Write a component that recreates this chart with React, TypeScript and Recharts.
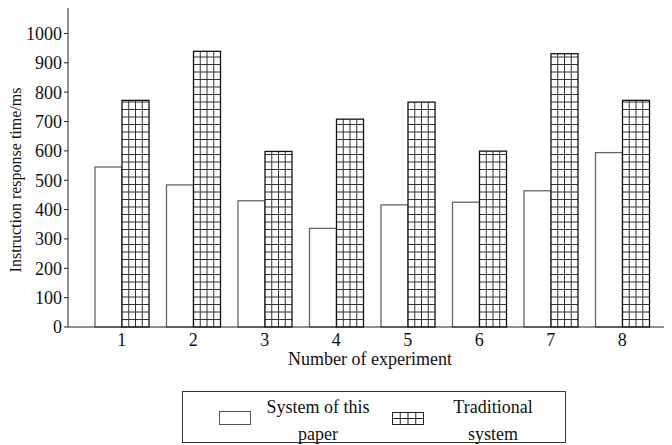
import { BarChart, Bar, XAxis, YAxis, Legend, Label } from "recharts";

const experiments = ["1", "2", "3", "4", "5", "6", "7", "8"];
const thisPaper = [545, 484, 430, 336, 416, 425, 464, 594];
const traditional = [772, 939, 598, 708, 766, 599, 931, 772];
const yTicks = [0, 100, 200, 300, 400, 500, 600, 700, 800, 900, 1000];

const data = experiments.map((name, i) => ({
  name,
  thisPaper: thisPaper[i],
  traditional: traditional[i],
}));

const FONT = "Liberation Serif, Times New Roman, DejaVu Serif, serif";

function PlainBar(props: any) {
  const { x, y, width, height } = props;
  if (!height || height <= 0) return null;
  return <rect x={x} y={y} width={width} height={height} fill="#fff" stroke="#666" strokeWidth={1.3} />;
}

function GridBar(props: any) {
  const { x, y, width, height } = props;
  if (!height || height <= 0) return null;
  const rowH = 7.5;
  const lines = [];
  for (let i = 1; i < 4; i++) {
    const lx = x + (i * width) / 4;
    lines.push(<line key={`v${i}`} x1={lx} x2={lx} y1={y} y2={y + height} stroke="#333" strokeWidth={1} />);
  }
  let k = 0;
  for (let ly = y + height - rowH; ly > y + 1; ly -= rowH) {
    lines.push(<line key={`h${k++}`} x1={x} x2={x + width} y1={ly} y2={ly} stroke="#333" strokeWidth={1} />);
  }
  return (
    <g>
      <rect x={x} y={y} width={width} height={height} fill="#fff" stroke="none" />
      {lines}
      <rect x={x} y={y} width={width} height={height} fill="none" stroke="#111" strokeWidth={1.3} />
    </g>
  );
}

function LegendBox() {
  return (
    <div
      style={{
        position: "relative",
        width: 384,
        height: 52,
        boxSizing: "border-box",
        border: "1px solid #333",
        fontFamily: FONT,
        fontSize: 18,
        color: "#111",
      }}
    >
      <svg width={32} height={14} style={{ position: "absolute", left: 36, top: 19 }}>
        <rect x={0.5} y={0.5} width={31} height={13} fill="#fff" stroke="#555" />
      </svg>
      <div style={{ position: "absolute", left: 75, width: 120, top: 2, textAlign: "center", lineHeight: "27px" }}>
        System of this
        <br />
        paper
      </div>
      <svg width={32} height={14} style={{ position: "absolute", left: 209, top: 20 }}>
        <rect x={0.5} y={0.5} width={31} height={12} fill="#fff" stroke="#222" />
        <line x1={8.25} x2={8.25} y1={0} y2={13} stroke="#222" />
        <line x1={16} x2={16} y1={0} y2={13} stroke="#222" />
        <line x1={23.75} x2={23.75} y1={0} y2={13} stroke="#222" />
        <line x1={0} x2={32} y1={6.5} y2={6.5} stroke="#222" />
      </svg>
      <div style={{ position: "absolute", left: 250, width: 120, top: 2, textAlign: "center", lineHeight: "27px" }}>
        Traditional
        <br />
        system
      </div>
    </div>
  );
}

export default function App() {
  return (
    <div style={{ marginTop: -8, marginLeft: -8, width: 672, height: 445, fontFamily: FONT }}>
      <BarChart
        width={672}
        height={445}
        data={data}
        margin={{ top: 7, right: 0, bottom: 78, left: 0 }}
        barGap={0}
        barSize={27}
        style={{ fontFamily: FONT }}
      >
        <XAxis
          dataKey="name"
          xAxisId="main"
          height={40}
          padding={{ left: 18, right: 14 }}
          tickLine={false}
          axisLine={{ stroke: "#222", strokeWidth: 1 }}
          tick={{ fill: "#111", fontSize: 18, fontFamily: FONT }}
          tickMargin={0}
        >
          <Label
            value="Number of experiment"
            position="insideBottom"
            offset={0}
            dy={-2}
            style={{ fill: "#111", fontSize: 18, fontFamily: FONT }}
          />
        </XAxis>
        <XAxis
          dataKey="name"
          xAxisId="top"
          orientation="top"
          height={0}
          tick={false}
          tickLine={false}
          axisLine={{ stroke: "#222", strokeWidth: 1 }}
        />
        <YAxis
          width={68}
          domain={[0, 1090]}
          ticks={yTicks}
          interval={0}
          tickSize={4}
          tickMargin={2}
          tickLine={{ stroke: "#222" }}
          axisLine={{ stroke: "#222", strokeWidth: 1 }}
          tick={{ fill: "#111", fontSize: 18, fontFamily: FONT }}
        >
          <Label
            content={() => {
              const cx = 15;
              const cy = 180;
              return (
                <text
                  x={cx}
                  y={cy}
                  transform={`rotate(-90 ${cx} ${cy})`}
                  textAnchor="middle"
                  dominantBaseline="central"
                  fill="#111"
                  fontSize={16}
                  fontFamily={FONT}
                >
                  Instruction response time/ms
                </text>
              );
            }}
          />
        </YAxis>
        <Legend
          layout="horizontal"
          verticalAlign="middle"
          content={() => <LegendBox />}
          wrapperStyle={{ left: 182, top: 391, width: 384, height: 52 }}
        />
        <Bar dataKey="thisPaper" xAxisId="main" name="System of this paper" shape={PlainBar} isAnimationActive={false} />
        <Bar dataKey="traditional" xAxisId="main" name="Traditional system" shape={GridBar} isAnimationActive={false} />
      </BarChart>
    </div>
  );
}
